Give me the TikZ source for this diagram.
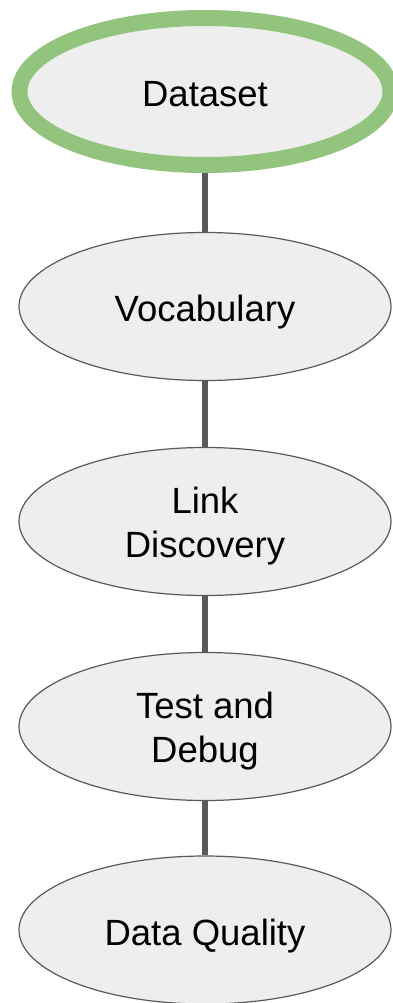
\documentclass[tikz,border=0pt]{standalone}
\usepackage{fontspec}
\setmainfont{Liberation Sans}
\usetikzlibrary{shapes.geometric,backgrounds}
\definecolor{nodefill}{HTML}{EEEEEE}
\definecolor{edgegray}{HTML}{595959}
\definecolor{startgreen}{HTML}{93C47D}
\newcommand{\firstlinestrut}{\rule{0pt}{35pt}}
\tikzset{
  stage/.style={ellipse, draw=edgegray, line width=1.2pt, fill=nodefill,
    minimum width=372pt, minimum height=148pt, inner sep=0pt, align=center,
    font=\fontsize{36.5}{44}\selectfont, text=black},
  oneline/.style={text height=30pt, text depth=0pt},
  startstage/.style={stage, oneline, draw=startgreen, line width=16pt,
    minimum width=371pt, minimum height=147pt},
  link/.style={draw=edgegray, line width=6pt}
}
\begin{document}
\begin{tikzpicture}[x=1pt,y=-1pt]
\useasboundingbox (0,0) rectangle (392,1003);
\node[startstage] (ds) at (205,91.5) {Dataset};
\node[stage, oneline] (voc) at (205,306.5) {Vocabulary};
\node[stage] (ld) at (205,521.5) {\firstlinestrut Link\\Discovery};
\node[stage] (td) at (205,726.5) {\firstlinestrut Test and\\Debug};
\node[stage, oneline] (dq) at (205,930) {Data Quality};
\begin{scope}[on background layer]
\draw[link] (ds.south) -- (voc.north);
\draw[link] (voc.south) -- (ld.north);
\draw[link] (ld.south) -- (td.north);
\draw[link] (td.south) -- (dq.north);
\end{scope}
\end{tikzpicture}
\end{document}
